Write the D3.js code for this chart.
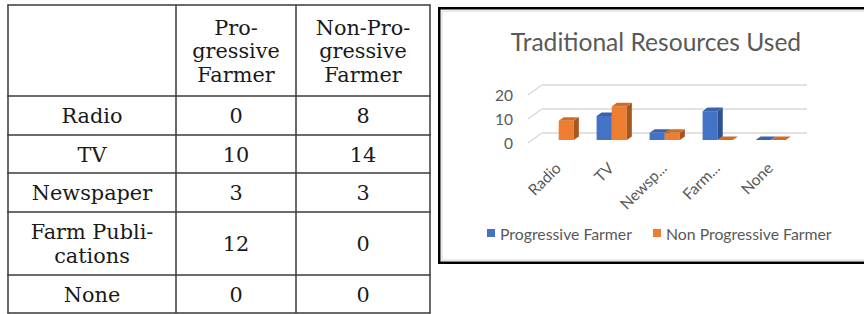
<!DOCTYPE html>
<html><head><meta charset="utf-8">
<script src="https://cdn.jsdelivr.net/npm/d3@7"></script>
<style>html,body{margin:0;padding:0;background:#fff;overflow:hidden}</style>
</head><body><svg id="c" width="864" height="314"></svg>
<script>
// ---- data ----
const categories = ["Radio","TV","Newspaper","Farm Publications","None"];
const axisLabels = ["Radio","TV","Newsp...","Farm...","None"];
const seriesNames = ["Progressive Farmer","Non Progressive Farmer"];
const progressive = [0,10,3,12,0];
const nonProgressive = [8,14,3,0,0];
// the chart leaves the Radio / Progressive cell blank (no zero sliver drawn)
const progressiveChart = [null,10,3,12,0];
const nonProgressiveChart = [8,14,3,0,0];
const yTicks = [0,10,20];
const chartTitle = "Traditional Resources Used";
const tableHeaderLines = [["Pro-","gressive","Farmer"],["Non-Pro-","gressive","Farmer"]];
const tableRowLines = [["Radio"],["TV"],["Newspaper"],["Farm Publi-","cations"],["None"]];

const svg = d3.select("#c");
svg.append("rect").attr("width",864).attr("height",314).attr("fill","#fff");

// ---- table ----
const colEdges = [8,176,296,430];
const rowEdges = [5,96,135,173,212,275,313];
const tg = svg.append("g");
const serif = "'DejaVu Serif', serif";
const tfs = 20.8, capH = tfs*0.73, lineH = 23.5;
colEdges.forEach(x=>tg.append("line").attr("x1",x).attr("x2",x).attr("y1",rowEdges[0]).attr("y2",rowEdges[rowEdges.length-1]).attr("stroke","#3a3a3a").attr("stroke-width",1.5));
rowEdges.forEach(y=>tg.append("line").attr("x1",colEdges[0]-0.75).attr("x2",colEdges[3]+0.75).attr("y1",y).attr("y2",y).attr("stroke","#3a3a3a").attr("stroke-width",1.5));
function cellText(lines, c, r){
  const cx=(colEdges[c]+colEdges[c+1])/2, cy=(rowEdges[r]+rowEdges[r+1])/2;
  const n=lines.length;
  lines.forEach((t,i)=>{
    tg.append("text").attr("x",cx).attr("y",cy+capH/2+(i-(n-1)/2)*lineH)
      .attr("text-anchor","middle").attr("font-family",serif).attr("font-size",tfs).attr("fill","#1a1a1a").text(t);
  });
}
tableHeaderLines.forEach((l,i)=>cellText(l,i+1,0));
tableRowLines.forEach((l,i)=>{
  cellText(l,0,i+1);
  cellText([String(progressive[i])],1,i+1);
  cellText([String(nonProgressive[i])],2,i+1);
});

// ---- chart frame ----
svg.append("rect").attr("x",442).attr("y",11).attr("width",440).attr("height",249).attr("fill","none").attr("stroke","#d6d6d6").attr("stroke-width",1);
svg.append("rect").attr("x",439.25).attr("y",8.25).attr("width",440).attr("height",254.5).attr("fill","none").attr("stroke","#000").attr("stroke-width",2.5);

const sans = "Lato, 'Open Sans', sans-serif";
const grey = "#595959";
svg.append("text").attr("x",656).attr("y",51).attr("text-anchor","middle").attr("font-family",sans).attr("font-size",24.6).attr("fill",grey).text(chartTitle);

// ---- 3D column chart ----
const x = d3.scaleBand().domain(categories).range([528,793]);
const y = d3.scaleLinear().domain([0,20]).range([143,95]);
const DX = 14, DY = -10;      // full floor depth
const f0 = 0.3, f1 = 0.66;    // bar depth span
const g = svg.append("g");
yTicks.forEach(t=>{
  const y0=y(t);
  g.append("path").attr("d",`M${x.range()[0]},${y0}L${x.range()[0]+DX},${y0+DY}L${x.range()[1]+DX},${y0+DY}`)
    .attr("fill","none").attr("stroke","#d9d9d9").attr("stroke-width",1.3);
  g.append("text").attr("x",513).attr("y",y0).attr("dominant-baseline","central").attr("text-anchor","end")
    .attr("font-family",sans).attr("font-size",15.5).attr("fill",grey).text(t);
});
const colors = [
  {front:"#4472C4", top:"#3A63AC", side:"#2E5190"},
  {front:"#ED7D31", top:"#D26B27", side:"#A9561E"}
];
const series=[progressiveChart,nonProgressiveChart];
const bw = x.bandwidth()*0.285;
const ddx=(f1-f0)*DX, ddy=(f1-f0)*DY;
categories.forEach((c,i)=>{
  const cx = x(c)+x.bandwidth()/2 + f0*DX;
  series.forEach((s,k)=>{
    const v=s[i], col=colors[k];
    if(v===null) return;
    const x0 = k===0 ? cx-bw : cx, x1=x0+bw;
    const yb = y(0)+f0*DY, yt = y(v)+f0*DY;
    if(v>0){
      g.append("path").attr("d",`M${x0},${yb}L${x1},${yb}L${x1},${yt}L${x0},${yt}Z`).attr("fill",col.front);
      g.append("path").attr("d",`M${x1},${yb}L${x1+ddx},${yb+ddy}L${x1+ddx},${yt+ddy}L${x1},${yt}Z`).attr("fill",col.side);
    }
    g.append("path").attr("d",`M${x0},${yt}L${x1},${yt}L${x1+ddx},${yt+ddy}L${x0+ddx},${yt+ddy}Z`).attr("fill",col.top);
  });
  g.append("text").attr("transform",`translate(${cx-1},${165}) rotate(-45)`).attr("text-anchor","end")
    .attr("dominant-baseline","central").attr("font-family",sans).attr("font-size",15.5).attr("fill",grey).text(axisLabels[i]);
});

// ---- legend ----
const legX=[487,653];
seriesNames.forEach((n,k)=>{
  svg.append("rect").attr("x",legX[k]).attr("y",229).attr("width",8).attr("height",8).attr("fill",colors[k].front);
  svg.append("text").attr("x",legX[k]+13).attr("y",233.5).attr("dominant-baseline","central")
    .attr("font-family",sans).attr("font-size",15.8).attr("fill",grey).text(n);
});
</script></body></html>
